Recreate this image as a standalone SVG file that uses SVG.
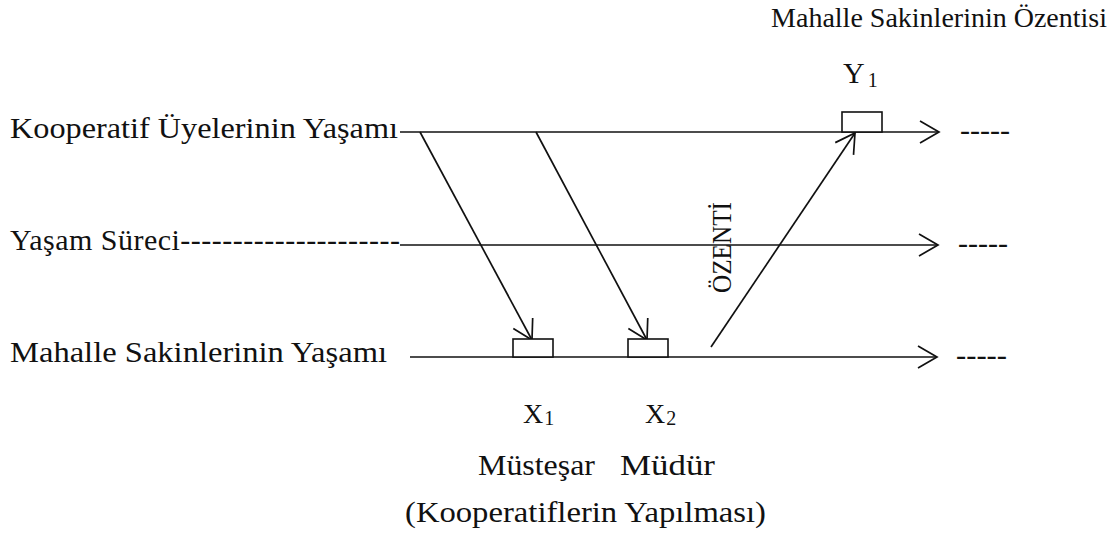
<svg xmlns="http://www.w3.org/2000/svg" width="1119" height="547" viewBox="0 0 1119 547" font-family="'Liberation Serif', 'Times New Roman', serif">
<style>
text{font-family:"Liberation Serif","Times New Roman",serif;fill:#111}
.lab{font-size:30px}
.sub{font-size:20px}
.ln{stroke:#111;stroke-width:1.7;fill:none}
.box{stroke:#111;stroke-width:1.6;fill:#fff}
</style>
<defs>
<marker id="arr" markerUnits="userSpaceOnUse" markerWidth="30" markerHeight="30" viewBox="-25 -15 30 30" refX="0" refY="0" orient="auto" overflow="visible">
<path d="M-19,-11 L0,0 L-19,11" fill="none" stroke="#111" stroke-width="1.7"/>
</marker>
</defs>
<rect width="1119" height="547" fill="#fff"/>

<g id="connectors">
<line class="ln" x1="400" y1="132" x2="939" y2="132" marker-end="url(#arr)"/>
<line class="ln" x1="400" y1="245" x2="938" y2="245" marker-end="url(#arr)"/>
<line class="ln" x1="410" y1="357" x2="937" y2="357" marker-end="url(#arr)"/>
<line class="ln" x1="420" y1="132" x2="532" y2="340" marker-end="url(#arr)"/>
<line class="ln" x1="536" y1="132" x2="647" y2="340" marker-end="url(#arr)"/>
<line class="ln" x1="711" y1="347" x2="855" y2="133" marker-end="url(#arr)"/>
</g>

<g id="title">
<text x="1107" y="27" text-anchor="end" font-size="28">Mahalle Sakinlerinin Özentisi</text>
</g>

<g id="node-kooperatif">
<text class="lab" x="10" y="138" textLength="388" lengthAdjust="spacingAndGlyphs">Kooperatif Üyelerinin Yaşamı</text>
<text class="lab" x="960" y="140" textLength="50" lengthAdjust="spacingAndGlyphs">-----</text>
</g>

<g id="node-yasam">
<text class="lab" x="10" y="250" textLength="390" lengthAdjust="spacing">Yaşam Süreci---------------------</text>
<text class="lab" x="958" y="253" textLength="50" lengthAdjust="spacingAndGlyphs">-----</text>
</g>

<g id="node-mahalle">
<text class="lab" x="10" y="362" textLength="377" lengthAdjust="spacingAndGlyphs">Mahalle Sakinlerinin Yaşamı</text>
<text class="lab" x="956" y="365" textLength="51" lengthAdjust="spacingAndGlyphs">-----</text>
</g>

<g id="node-y1">
<rect class="box" x="842" y="112" width="40" height="20"/>
<text class="lab" x="843" y="83">Y<tspan class="sub" dx="3" dy="4">1</tspan></text>
</g>

<g id="node-x1">
<rect class="box" x="513" y="339" width="40" height="18"/>
<text x="523" y="423" font-size="28">X<tspan class="sub" dx="1" dy="2">1</tspan></text>
</g>

<g id="node-x2">
<rect class="box" x="628" y="339" width="40" height="18"/>
<text x="645" y="423" font-size="28">X<tspan class="sub" dx="1" dy="2">2</tspan></text>
</g>

<g id="labels-bottom">
<text class="lab" x="478" y="475" textLength="117" lengthAdjust="spacingAndGlyphs">Müsteşar</text>
<text class="lab" x="620" y="475" textLength="95" lengthAdjust="spacingAndGlyphs">Müdür</text>
<text class="lab" x="405" y="522" textLength="361" lengthAdjust="spacingAndGlyphs">(Kooperatiflerin Yapılması)</text>
</g>

<g id="label-ozenti">
<text transform="translate(731,293) rotate(-90)" x="0" y="0" font-size="27" textLength="91" lengthAdjust="spacingAndGlyphs">ÖZENTİ</text>
</g>
</svg>
